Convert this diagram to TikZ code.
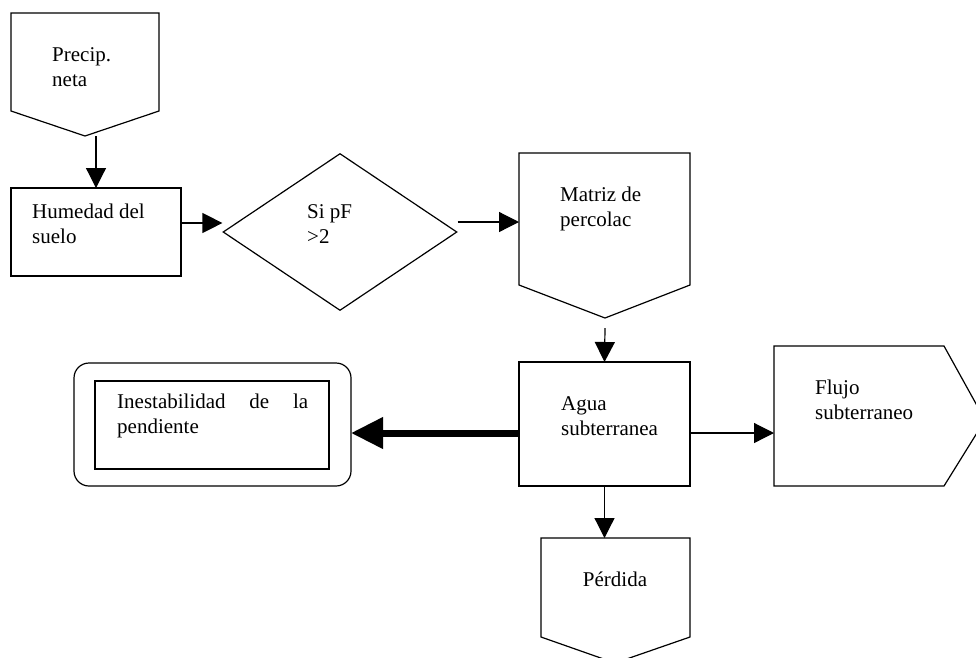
\documentclass[tikz,border=0pt]{standalone}
\usepackage{fontspec}
\setmainfont{Liberation Serif}
\usetikzlibrary{arrows.meta,shapes.geometric,calc}

\begin{document}
\begin{tikzpicture}[
        x=1pt, y=-1pt,
        linea/.style={line width=1.2pt},
        marco/.style={inner sep=0pt, outer sep=0pt, anchor=north west},
        caja/.style={marco, draw, linea},
        texto/.style={inner sep=0pt, anchor=base west, align=left, font=\fontsize{21}{25}\selectfont},
        flecha/.style={linea, -{Triangle[length=20pt,width=20pt]}},
        gruesa/.style={line width=7pt, -{Triangle[length=32pt,width=30pt]}}
    ]
        \fill[white] (0,0) rectangle (976,657);
        \useasboundingbox (0,0) rectangle (976,657);

        % Cajas y figuras del diagrama
        \node[marco, minimum width=148, minimum height=98] (precip) at (11,13) {};
        \coordinate (precip-punta) at (85,136);
        \draw[linea] (precip.north west) -- (precip.north east) -- (precip.south east)
            -- (precip-punta) -- (precip.south west) -- cycle;

        \node[caja, minimum width=170, minimum height=88] (hum) at (11,188) {};

        \node[draw, linea, diamond, inner sep=0pt, minimum width=234, minimum height=157] (rombo) at (340,232) {};

        \node[marco, minimum width=171, minimum height=132] (matriz) at (519,153) {};
        \coordinate (matriz-punta) at (605,318);
        \draw[linea] (matriz.north west) -- (matriz.north east) -- (matriz.south east)
            -- (matriz-punta) -- (matriz.south west) -- cycle;

        \node[caja, minimum width=171, minimum height=124] (agua) at (519,362) {};

        \node[caja, rounded corners=15pt, minimum width=277, minimum height=123] (inest) at (74,363) {};
        \node[caja, minimum width=234, minimum height=88] (inest-in) at (95,381) {};

        \node[marco, minimum width=170, minimum height=140] (flujo) at (774,346) {};
        \coordinate (flujo-punta) at (985,420);
        \draw[linea] (flujo.south west) -- (flujo.north west) -- (flujo.north east)
            -- (flujo-punta) -- (flujo.south east) -- cycle;

        \node[marco, minimum width=149, minimum height=99] (perdida) at (541,538) {};
        \coordinate (perdida-punta) at (615,663);
        \draw[linea] (perdida.north west) -- (perdida.north east) -- (perdida.south east)
            -- (perdida-punta) -- (perdida.south west) -- cycle;

        % Textos (la base es la de la ultima linea)
        \node[texto] (precip-t) at (52,86) {Precip.\\neta};
        \node[texto] (hum-t) at (32,243) {Humedad del\\suelo};
        \node[texto] (rombo-t) at (307,243) {Si pF\\>2};
        \node[texto] (matriz-t) at (560,226) {Matriz de\\percolac};
        \node[texto] (agua-t) at (561,435) {Agua\\subterranea};
        \node[texto, align=justify, text width=191pt] (inest-t) at (117,408)
            {Inestabilidad de la \mbox{pendiente}};
        \node[texto] (flujo-t) at (815,419) {Flujo\\subterraneo};
        \node[texto, anchor=base] (perdida-t) at (615,586) {Pérdida};

        % Flechas
        \draw[flecha] (hum.north |- precip-punta) -- (hum.north);
        \draw[flecha] ($(hum.east)+(0,-9)$) coordinate (h0) -- (h0 -| rombo.west);
        \draw[flecha] ($(rombo.east)+(0,-10)$) coordinate (r0) -- (r0 -| matriz.west);
        \draw[flecha] ($(matriz-punta)+(0,10)$) -- (agua.north);
        \draw[gruesa] ($(agua.west)+(0,9)$) coordinate (g0) -- (g0 -| inest.east);
        \draw[flecha] ($(agua.east)+(0,9)$) coordinate (a0) -- (a0 -| flujo.west);
        \draw[flecha] (agua.south) -- (agua.south |- perdida.north);
\end{tikzpicture}
\end{document}
